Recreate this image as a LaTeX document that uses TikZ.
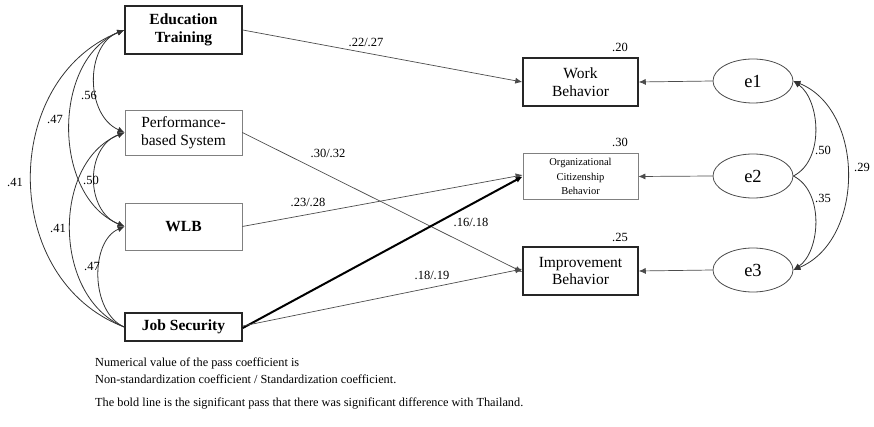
\documentclass[tikz,border=0pt]{standalone}
\usepackage{fontspec}
\setmainfont{Liberation Serif}
\usetikzlibrary{arrows.meta,shapes.geometric}
\begin{document}
\begin{tikzpicture}[x=1pt,y=-1pt,
  boxbase/.style={rectangle,inner sep=0pt,align=center,font=\fontsize{15.5}{17.5}\selectfont},
  thickbox/.style={boxbase,draw=black!85,line width=1.5pt},
  thinbox/.style={boxbase,draw=black!50,line width=0.7pt},
  errnode/.style={ellipse,draw=black!70,line width=0.8pt,minimum width=80pt,minimum height=44pt,inner sep=0pt,font=\fontsize{18.5}{20}\selectfont},
  tip/.style={-{Latex[length=7pt,width=6pt]}},
  tipboth/.style={{Latex[length=7pt,width=6pt]}-{Latex[length=7pt,width=6pt]}},
  tipstart/.style={{Latex[length=7pt,width=6pt]}-},
  path/.style={draw=black!70,line width=0.7pt},
  boldpath/.style={draw=black,line width=2pt},
  cov/.style={draw=black!80,line width=0.8pt},
  lbl/.style={font=\fontsize{12.5}{13}\selectfont,inner sep=0pt},
  note/.style={font=\fontsize{12.3}{13}\selectfont,inner sep=0pt,anchor=west}
]
\useasboundingbox (0,0) rectangle (874,427);
% exogenous
\node[thickbox,minimum width=117pt,minimum height=48pt] (edu) at (183.5,30) {\textbf{Education}\\\textbf{Training}};
\node[thinbox,minimum width=117pt,minimum height=45pt] (perf) at (183.5,132.5) {Performance-\\based System};
\node[thinbox,minimum width=117pt,minimum height=47pt] (wlb) at (183.5,226.5) {\textbf{WLB}};
\node[thickbox,minimum width=117pt,minimum height=28pt] (js) at (183.5,327) {\textbf{Job Security}};
% endogenous
\node[thickbox,minimum width=115pt,minimum height=48pt] (wb) at (580.5,82) {Work\\Behavior};
\node[thinbox,minimum width=115pt,minimum height=46pt,font=\fontsize{10.5}{14.5}\selectfont] (ocb) at (580.5,176.5) {Organizational\\Citizenship\\Behavior};
\node[thickbox,minimum width=115pt,minimum height=48pt] (ib) at (580.5,271) {Improvement\\Behavior};
% errors
\node[errnode] (e1) at (753,81) {e1};
\node[errnode] (e2) at (753,176) {e2};
\node[errnode] (e3) at (753,270) {e3};
% R2
\node[lbl] (r1) at (620,47) {.20};
\node[lbl] (r2) at (620,142) {.30};
\node[lbl] (r3) at (620,237) {.25};
% paths
\draw[path,tip] (edu.east) -- (wb.west);
\draw[path,tip] (perf.east) -- ([yshift=-1pt]ib.west);
\draw[path,tip] (wlb.east) -- ([yshift=1.5pt]ocb.west);
\draw[boldpath,tip] ([yshift=-1pt]js.east) -- (ocb.west);
\draw[path,tip] ([yshift=1pt]js.east) -- ([yshift=2pt]ib.west);
\draw[path,tip] (e1.west) -- (wb.east);
\draw[path,tip] (e2.west) -- (ocb.east);
\draw[path,tip] (e3.west) -- (ib.east);
% path labels
\node[lbl] (l1) at (366,42) {.22/.27};
\node[lbl] (l2) at (328,153) {.30/.32};
\node[lbl] (l3) at (308,202) {.23/.28};
\node[lbl] (l4) at (471,222) {.16/.18};
\node[lbl] (l5) at (432,275) {.18/.19};
% covariances left
\draw[cov,tipboth] (edu.west) .. controls (85,45) and (85,115) .. (perf.west);
\draw[cov,tipboth] (edu.west) .. controls (52,60) and (52,196) .. (wlb.west);
\draw[cov,tipstart] (edu.west) .. controls (0,80) and (0,280) .. (js.west);
\draw[cov,tipboth] (perf.west) .. controls (85,147) and (85,211) .. (wlb.west);
\draw[cov,tipstart] (perf.west) .. controls (52,162) and (52,297) .. (js.west);
\draw[cov,tipstart] (wlb.west) .. controls (90,241) and (90,312) .. (js.west);
\node[lbl] (c1) at (89,95) {.56};
\node[lbl] (c2) at (55,119) {.47};
\node[lbl] (c3) at (15,182) {.41};
\node[lbl] (c4) at (91,180) {.50};
\node[lbl] (c5) at (58,228) {.41};
\node[lbl] (c6) at (92,266) {.47};
% covariances right
\draw[cov,tip] (e2.east) .. controls (825,160) and (820,100) .. (e1.east);
\draw[cov,tip] (e2.east) .. controls (825,192) and (820,252) .. (e3.east);
\draw[cov,tipboth] (e1.east) .. controls (865,110) and (865,240) .. (e3.east);
\node[lbl] (c7) at (823,150) {.50};
\node[lbl] (c8) at (823,198) {.35};
\node[lbl] (c9) at (862,167) {.29};
% notes
\node[note] (n1) at (95,363) {Numerical value of the pass coefficient is};
\node[note] (n2) at (95,379) {Non-standardization coefficient / Standardization coefficient.};
\node[note] (n3) at (95,403) {The bold line is the significant pass that there was significant difference with Thailand.};
\end{tikzpicture}
\end{document}
